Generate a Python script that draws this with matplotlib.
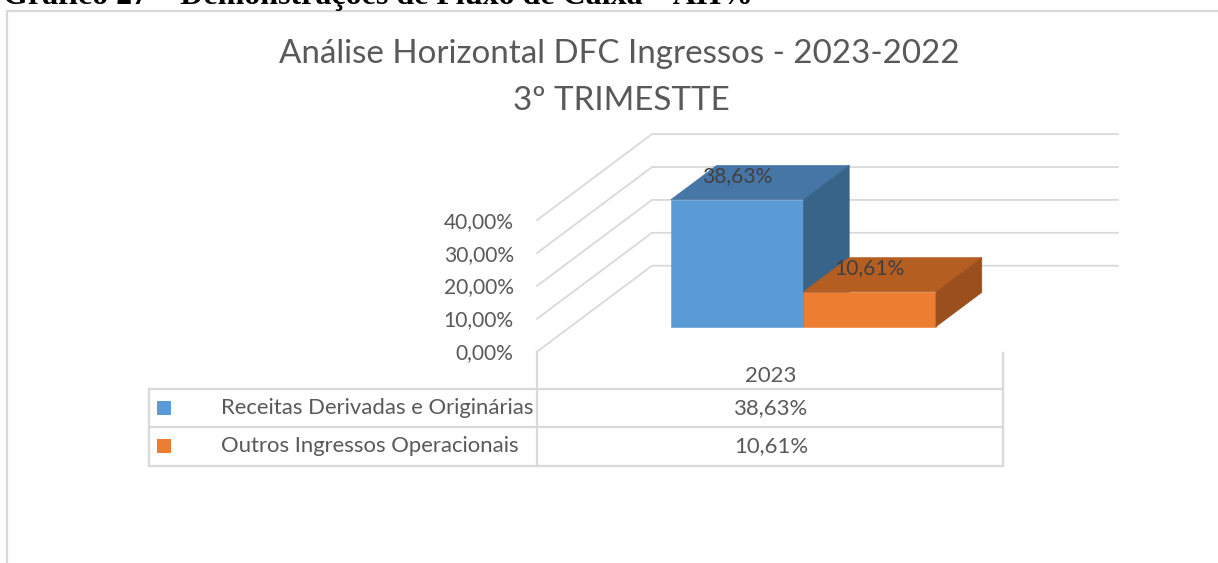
import matplotlib.pyplot as plt
from matplotlib.patches import Polygon, Rectangle

plt.rcParams['font.family'] = ['Lato', 'DejaVu Sans']

# chart data
categories = ['2023']
series = ['Receitas Derivadas e Originárias', 'Outros Ingressos Operacionais']
values = [38.63, 10.61]
yticks = [0, 10, 20, 30, 40]
title = 'Análise Horizontal DFC Ingressos - 2023-2022'
subtitle = '3º TRIMESTTE'
caption = 'Gráfico 27 – Demonstrações de Fluxo de Caixa – AH%'

front_colors = ['#5B9BD5', '#ED7D31']
top_colors = ['#4676A6', '#B55E22']
side_colors = ['#386489', '#9A4F1C']
grid_c = '#D9D9D9'
text_c = '#595959'


def pct(v):
    return f'{v:.2f}%'.replace('.', ',')


W, H = 1218, 563
fig = plt.figure(figsize=(W / 100, H / 100), dpi=100)

# background layer in pixel units (frame, titles, table)
bg = fig.add_axes([0, 0, 1, 1])
bg.set_xlim(0, W)
bg.set_ylim(H, 0)
bg.axis('off')

# 3d-looking bar layer: x in category band units, y in percent
X0, BAND, PX_PER, Y0 = 537, 466, 3.29, 351.7
ax = fig.add_axes([0, 0, 1, 1])
ax.patch.set_alpha(0)
ax.axis('off')
ax.set_xlim(-X0 / BAND, (W - X0) / BAND)
ax.set_ylim((Y0 - H) / PX_PER, Y0 / PX_PER)

DX, DY = 115 / BAND, 86 / PX_PER   # floor depth offset
d0, dd = 0.29, 0.399               # bar front depth and bar depth
BW = 0.2845


def fit(texts, width):
    r = fig.canvas.get_renderer()
    w = texts[0].get_window_extent(r).width
    s = texts[0].get_fontsize() * width / w
    for t in texts:
        t.set_fontsize(s)


# frame and caption
bg.plot([7, 7, W], [H, 11, 11], color=grid_c, lw=1.6, solid_capstyle='butt')
cap = bg.text(3, 4, caption, ha='left', va='baseline', fontsize=20,
              fontweight='bold', family='Liberation Serif', color='black')

t1 = bg.text(619, 54, title, ha='center', va='center', fontsize=20, color=text_c)
t2 = bg.text(621, 100.5, subtitle, ha='center', va='center', fontsize=20, color=text_c)

# walls: gridlines running from the front edge to the back wall
for t in yticks:
    ax.plot([0, DX, 1 + DX], [t, t + DY, t + DY], color=grid_c, lw=1.3, zorder=1)

tick_texts = [ax.text(-0.05, t - 0.5, pct(t), ha='right', va='center',
                      fontsize=12, color=text_c) for t in yticks]

# bars
label_texts = []
lefts = [0.5 - BW, 0.5]
for i, v in enumerate(values):
    l, r = lefts[i], lefts[i] + BW
    fx, fy = d0 * DX, d0 * DY
    bx, by = (d0 + dd) * DX, (d0 + dd) * DY
    front = [(l + fx, fy), (r + fx, fy), (r + fx, v + fy), (l + fx, v + fy)]
    top = [(l + fx, v + fy), (r + fx, v + fy), (r + bx, v + by), (l + bx, v + by)]
    side = [(r + fx, fy), (r + bx, by), (r + bx, v + by), (r + fx, v + fy)]
    for pts, c in [(front, front_colors[i]), (top, top_colors[i]), (side, side_colors[i])]:
        ax.add_patch(Polygon(pts, closed=True, facecolor=c, edgecolor=c,
                             lw=0.4, zorder=2 + i))
    lab = ax.text((l + r) / 2 + fx, v + (d0 + 0.7 * dd) * DY, pct(v),
                  ha='center', va='center', fontsize=12, color='#404040', zorder=5)
    label_texts.append(lab)

# data table under the chart
rows_y = [389.3, 427.3, 465.7]
for y in rows_y:
    bg.plot([149, 1003], [y, y], color=grid_c, lw=1.6)
bg.plot([149, 149], [rows_y[0], rows_y[-1]], color=grid_c, lw=1.6)
bg.plot([537, 537], [352, rows_y[-1]], color=grid_c, lw=1.6)
bg.plot([1003, 1003], [352.7, rows_y[-1]], color=grid_c, lw=1.6)

table_texts = []
table_texts.append(bg.text(771, 376, categories[0], ha='center', va='center',
                           fontsize=12, color=text_c))
row_centers = [408, 446]
for i, name in enumerate(series):
    yc = row_centers[i]
    bg.add_patch(Rectangle((157.3, yc - 6.7), 13.4, 13.4, facecolor=front_colors[i],
                           edgecolor='none'))
    table_texts.insert(i, bg.text(220.7, yc, name, ha='left', va='center',
                                  fontsize=12, color=text_c))
    table_texts.append(bg.text(771, yc, pct(values[i]), ha='center', va='center',
                               fontsize=12, color=text_c))

fig.canvas.draw()
fit([cap], 750)
fit([t1, t2], 681)
fit(tick_texts[::-1], 70)
fit(label_texts, 70)
fit(table_texts, 311)

fig.savefig('out.png', dpi=100)
